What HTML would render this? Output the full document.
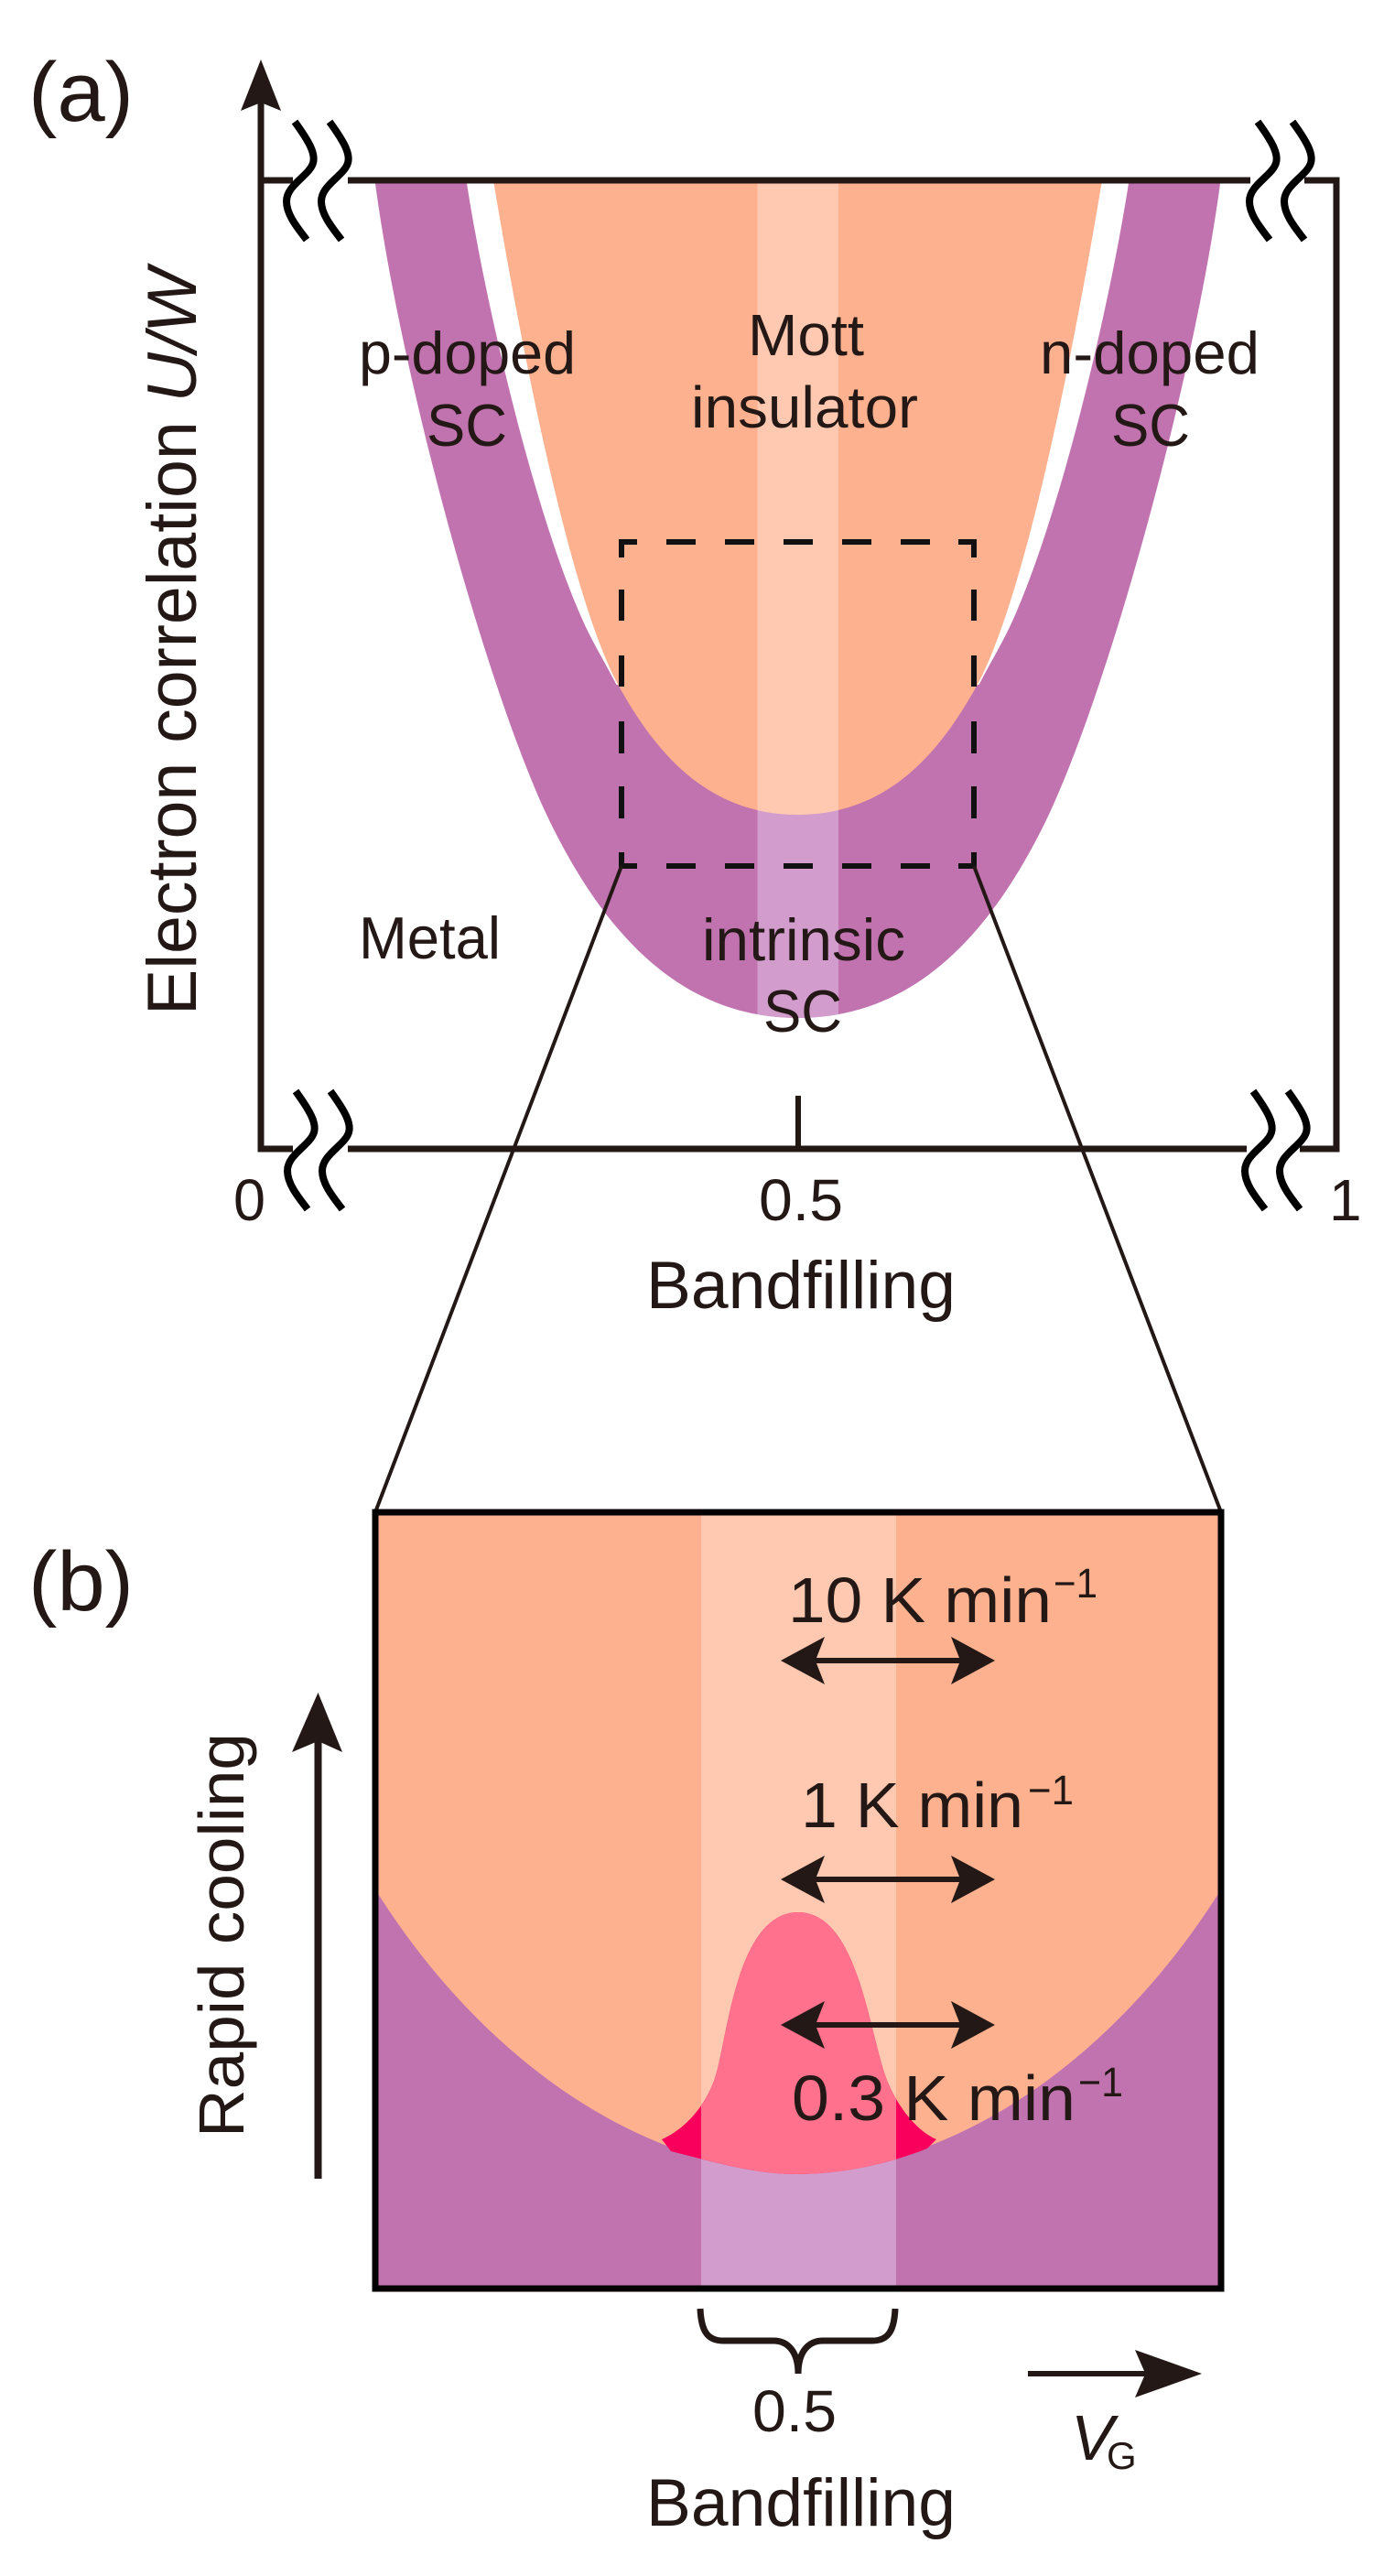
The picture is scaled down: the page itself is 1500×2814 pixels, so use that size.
<!DOCTYPE html>
<html>
<head>
<meta charset="utf-8">
<style>
html,body{margin:0;padding:0;background:#fff}
svg{display:block}
text{font-family:"Liberation Sans",Arial,sans-serif;fill:#231815}
</style>
</head>
<body>
<svg xmlns="http://www.w3.org/2000/svg" width="1500" height="2814" viewBox="0 0 1500 2814">
<defs>
<clipPath id="ba"><rect x="827.5" y="190" width="88.5" height="1000"/></clipPath>
<clipPath id="bb"><rect x="766" y="1652" width="213" height="848"/></clipPath>
<path id="hp" d="M-1,197 H462 C433,417 335,770 267.5,904 C197.5,1044 110,1112 0,1112 H-1 Z"/>
<path id="ho" d="M-1,197 H332.5 C302.5,377 248.5,657 193.5,753 C155.5,820 100,890 0,890 H-1 Z"/>
<path id="hw" d="M362,197 C340,340 285,570 232,684 C222,705 210,725 198,748 L100,748 L100,197 Z"/>
<path id="dome" d="M723,2337 C748,2326 772,2300 782,2267 C795,2225 805,2089 872,2089 C935,2089 948,2210 967,2267 C978,2298 1000,2327 1023,2337 L1013,2347 C975,2362 925,2375 870,2375 C825,2375 785,2363 733,2350 Z"/>
<path id="pb" d="M410,2064 C520,2240 690,2368 872,2374 C1054,2368 1224,2240 1334,2064 V2500 H410 Z"/>
</defs>
<rect width="1500" height="2814" fill="#fff"/>

<!-- Panel a regions -->
<g fill="#C173B0">
<use href="#hp" transform="translate(871.5,0)"/>
<use href="#hp" transform="translate(871.5,0) scale(-1,1)"/>
</g>
<g fill="#fff">
<use href="#hw" transform="translate(871.5,0)"/>
<use href="#hw" transform="translate(871.5,0) scale(-1,1)"/>
</g>
<g fill="#FDB18F">
<use href="#ho" transform="translate(871.5,0)"/>
<use href="#ho" transform="translate(871.5,0) scale(-1,1)"/>
</g>
<g clip-path="url(#ba)">
<g fill="#D29DCC">
<use href="#hp" transform="translate(871.5,0)"/>
<use href="#hp" transform="translate(871.5,0) scale(-1,1)"/>
</g>
<g fill="#FEC9B0">
<use href="#ho" transform="translate(871.5,0)"/>
<use href="#ho" transform="translate(871.5,0) scale(-1,1)"/>
</g>
</g>

<!-- Panel a frame -->
<g fill="none" stroke="#231815" stroke-width="7">
<path d="M285,100 V1255 H320"/>
<path d="M285,197 H320"/>
<path d="M380,197 H1366"/>
<path d="M380,1255 H1362"/>
<path d="M1425,197 H1460 V1255 H1420"/>
</g>
<path d="M285,65 L307,121 L285,112 L263,121 Z" fill="#231815"/>
<path d="M872,1197 V1255" stroke="#231815" stroke-width="6" fill="none"/>

<!-- Break marks -->
<g fill="none" stroke="#000" stroke-width="8">
<path d="M322,133 C338,155 345,168 342,178 C338,192 313,202 313,220 C313,235 326,250 335,262"/>
<path d="M360,133 C376,155 383,168 380,178 C376,192 351,202 351,220 C351,235 364,250 373,262"/>
<path d="M323,1192 C339,1214 346,1227 343,1237 C339,1251 314,1261 314,1279 C314,1294 327,1309 336,1321"/>
<path d="M361,1192 C377,1214 384,1227 381,1237 C377,1251 352,1261 352,1279 C352,1294 365,1309 374,1321"/>
<path d="M1374,133 C1390,155 1397,168 1394,178 C1390,192 1365,202 1365,220 C1365,235 1378,250 1387,262"/>
<path d="M1412,133 C1428,155 1435,168 1432,178 C1428,192 1403,202 1403,220 C1403,235 1416,250 1425,262"/>
<path d="M1369,1192 C1385,1214 1392,1227 1389,1237 C1385,1251 1360,1261 1360,1279 C1360,1294 1373,1309 1382,1321"/>
<path d="M1407,1192 C1423,1214 1430,1227 1427,1237 C1423,1251 1398,1261 1398,1279 C1398,1294 1411,1309 1420,1321"/>
</g>

<!-- Dashed box -->
<g fill="none" stroke="#111" stroke-width="6">
<path d="M696,592 H679 V609"/>
<path d="M728,592 H760 M792,592 H824 M856,592 H888 M920,592 H952 M984,592 H1016"/>
<path d="M1047,592 H1064 V609"/>
<path d="M679,644 V678 M679,716 V750 M679,788 V823 M679,859 V894"/>
<path d="M1064,644 V678 M1064,716 V750 M1064,788 V823 M1064,859 V894"/>
<path d="M679,931 V946 H696"/>
<path d="M728,946 H760 M792,946 H824 M856,946 H888 M920,946 H952 M984,946 H1016"/>
<path d="M1047,946 H1064 V931"/>
</g>
<path d="M679,946 L410,1652 M1064,946 L1334,1652" stroke="#231815" stroke-width="4" fill="none"/>

<!-- Panel a text -->
<text x="31" y="132" font-size="92" textLength="115" lengthAdjust="spacingAndGlyphs">(a)</text>
<text transform="translate(214,1109) rotate(-90)" font-size="76" textLength="816" lengthAdjust="spacingAndGlyphs">Electron correlation <tspan font-style="italic">U/W</tspan></text>
<text x="392" y="408" font-size="65" textLength="237" lengthAdjust="spacingAndGlyphs">p-doped</text>
<text x="466" y="487" font-size="65" textLength="88" lengthAdjust="spacingAndGlyphs">SC</text>
<text x="817" y="388" font-size="64" textLength="127" lengthAdjust="spacingAndGlyphs">Mott</text>
<text x="755" y="467" font-size="64" textLength="248" lengthAdjust="spacingAndGlyphs">insulator</text>
<text x="1136" y="408" font-size="65" textLength="240" lengthAdjust="spacingAndGlyphs">n-doped</text>
<text x="1214" y="487" font-size="65" textLength="86" lengthAdjust="spacingAndGlyphs">SC</text>
<text x="392" y="1047" font-size="65" textLength="155" lengthAdjust="spacingAndGlyphs">Metal</text>
<text x="767" y="1049" font-size="65" textLength="222" lengthAdjust="spacingAndGlyphs">intrinsic</text>
<text x="834" y="1127" font-size="65" textLength="86" lengthAdjust="spacingAndGlyphs">SC</text>
<text x="255" y="1333" font-size="64" textLength="35" lengthAdjust="spacingAndGlyphs">0</text>
<text x="829" y="1333" font-size="64" textLength="92" lengthAdjust="spacingAndGlyphs">0.5</text>
<text x="1452" y="1333" font-size="64">1</text>
<text x="706" y="1429" font-size="73" textLength="338" lengthAdjust="spacingAndGlyphs">Bandfilling</text>

<!-- Panel b -->
<rect x="410" y="1652" width="924" height="848" fill="#FDB18F"/>
<use href="#pb" fill="#C173B0"/>
<g clip-path="url(#bb)">
<rect x="766" y="1652" width="213" height="848" fill="#FEC9B0"/>
<use href="#pb" fill="#D29DCC"/>
</g>
<use href="#dome" fill="#F8005C"/>
<g clip-path="url(#bb)">
<use href="#dome" fill="#FF718C"/>
</g>
<rect x="410" y="1652" width="924" height="848" fill="none" stroke="#000" stroke-width="7"/>

<!-- Arrows -->
<g fill="#231815" stroke="none">
<path d="M853,1814 L901,1788 L892,1811 H1048 L1039,1788 L1087,1814 L1039,1840 L1048,1817 H892 L901,1840 Z"/>
<path d="M853,2053 L901,2027 L892,2050 H1048 L1039,2027 L1087,2053 L1039,2079 L1048,2056 H892 L901,2079 Z"/>
<path d="M853,2212 L901,2186 L892,2209 H1048 L1039,2186 L1087,2212 L1039,2238 L1048,2215 H892 L901,2238 Z"/>
<path d="M347.5,1849 L374,1914 L347.5,1902 L319,1914 Z"/>
<path d="M1123,2590 H1250 L1240,2567 L1313,2593 L1240,2619 L1250,2596 H1123 Z"/>
</g>
<path d="M347.5,1900 V2380" stroke="#231815" stroke-width="8" fill="none"/>

<!-- Brace -->
<path d="M765,2522 C766,2545 772,2557 790,2557 H845 C860,2557 872,2568 872,2593 C872,2568 884,2557 899,2557 H953 C971,2557 977,2545 978,2522" fill="none" stroke="#231815" stroke-width="7"/>

<!-- Panel b text -->
<text x="31" y="1759" font-size="92" textLength="115" lengthAdjust="spacingAndGlyphs">(b)</text>
<text transform="translate(266,2335) rotate(-90)" font-size="70" textLength="442" lengthAdjust="spacingAndGlyphs">Rapid cooling</text>
<text x="861" y="1772" font-size="70" textLength="288" lengthAdjust="spacingAndGlyphs">10 K min</text>
<text x="1151" y="1745" font-size="45" textLength="48" lengthAdjust="spacingAndGlyphs">−1</text>
<text x="875" y="1996" font-size="70" textLength="243" lengthAdjust="spacingAndGlyphs">1 K min</text>
<text x="1123" y="1971" font-size="45" textLength="50" lengthAdjust="spacingAndGlyphs">−1</text>
<text x="865" y="2316" font-size="70" textLength="310" lengthAdjust="spacingAndGlyphs">0.3 K min</text>
<text x="1178" y="2290" font-size="45" textLength="49" lengthAdjust="spacingAndGlyphs">−1</text>
<text x="822" y="2656" font-size="64" textLength="92" lengthAdjust="spacingAndGlyphs">0.5</text>
<text x="706" y="2759" font-size="73" textLength="338" lengthAdjust="spacingAndGlyphs">Bandfilling</text>
<text x="1170" y="2687" font-size="70" font-style="italic">V</text>
<text x="1209" y="2697" font-size="42">G</text>
</svg>
</body>
</html>
